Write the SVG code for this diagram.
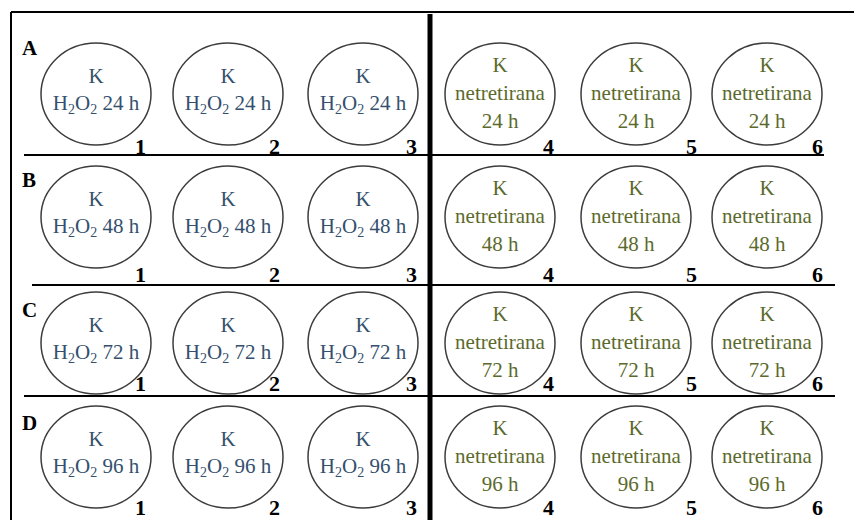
<svg xmlns="http://www.w3.org/2000/svg" width="854" height="520" viewBox="0 0 854 520">
<style>
.w{fill:none;stroke:#3c3c3c;stroke-width:1.5}
.t{font-family:"Liberation Serif","Times New Roman",serif;font-size:21px;text-anchor:middle}
.b{fill:#34506e}
.g{fill:#5b6a2c}
.s{font-size:14px}
.n{font-family:"Liberation Serif","Times New Roman",serif;font-size:22px;font-weight:bold;fill:#000;text-anchor:end}
.r{font-family:"Liberation Serif","Times New Roman",serif;font-size:21px;font-weight:bold;fill:#000}
.ln{stroke:#000;stroke-width:2;fill:none}
</style>
<defs>
<g id="wb"><ellipse class="w" cx="0" cy="0" rx="55" ry="51"/></g>
</defs>
<rect width="854" height="520" fill="#fff"/>
<g id="frame">
<path class="ln" d="M11 12H854M11 12V520"/>
<path class="ln" d="M24 155H824M32 285H835M24 396H835"/>
<path d="M430 14V520" stroke="#000" stroke-width="5"/>
</g>
<g id="rowlabels">
<text class="r" x="22" y="55">A</text>
<text class="r" x="22" y="187">B</text>
<text class="r" x="22" y="317">C</text>
<text class="r" x="22" y="430">D</text>
</g>
<g id="rowA">
<g id="A1"><use href="#wb" x="96" y="94"/><text class="t b" x="96" y="83">K</text><text class="t b" x="96" y="110">H<tspan class="s" dy="4">2</tspan><tspan dy="-4">O</tspan><tspan class="s" dy="4">2</tspan><tspan dy="-4"> 24 h</tspan></text><text class="n" x="146" y="154">1</text></g>
<g id="A2"><use href="#wb" x="228" y="94"/><text class="t b" x="228" y="83">K</text><text class="t b" x="228" y="110">H<tspan class="s" dy="4">2</tspan><tspan dy="-4">O</tspan><tspan class="s" dy="4">2</tspan><tspan dy="-4"> 24 h</tspan></text><text class="n" x="280" y="154">2</text></g>
<g id="A3"><use href="#wb" x="363" y="94"/><text class="t b" x="363" y="83">K</text><text class="t b" x="363" y="110">H<tspan class="s" dy="4">2</tspan><tspan dy="-4">O</tspan><tspan class="s" dy="4">2</tspan><tspan dy="-4"> 24 h</tspan></text><text class="n" x="417" y="154">3</text></g>
<g id="A4"><use href="#wb" x="500" y="94"/><text class="t g" x="500" y="72">K</text><text class="t g" x="500" y="100">netretirana</text><text class="t g" x="500" y="128">24 h</text><text class="n" x="554" y="154">4</text></g>
<g id="A5"><use href="#wb" x="636" y="94"/><text class="t g" x="636" y="72">K</text><text class="t g" x="636" y="100">netretirana</text><text class="t g" x="636" y="128">24 h</text><text class="n" x="697" y="154">5</text></g>
<g id="A6"><use href="#wb" x="767" y="94"/><text class="t g" x="767" y="72">K</text><text class="t g" x="767" y="100">netretirana</text><text class="t g" x="767" y="128">24 h</text><text class="n" x="823" y="154">6</text></g>
</g>
<g id="rowB">
<g id="B1"><use href="#wb" x="96" y="217"/><text class="t b" x="96" y="206">K</text><text class="t b" x="96" y="233">H<tspan class="s" dy="4">2</tspan><tspan dy="-4">O</tspan><tspan class="s" dy="4">2</tspan><tspan dy="-4"> 48 h</tspan></text><text class="n" x="146" y="282">1</text></g>
<g id="B2"><use href="#wb" x="228" y="217"/><text class="t b" x="228" y="206">K</text><text class="t b" x="228" y="233">H<tspan class="s" dy="4">2</tspan><tspan dy="-4">O</tspan><tspan class="s" dy="4">2</tspan><tspan dy="-4"> 48 h</tspan></text><text class="n" x="280" y="282">2</text></g>
<g id="B3"><use href="#wb" x="363" y="217"/><text class="t b" x="363" y="206">K</text><text class="t b" x="363" y="233">H<tspan class="s" dy="4">2</tspan><tspan dy="-4">O</tspan><tspan class="s" dy="4">2</tspan><tspan dy="-4"> 48 h</tspan></text><text class="n" x="417" y="282">3</text></g>
<g id="B4"><use href="#wb" x="500" y="217"/><text class="t g" x="500" y="195">K</text><text class="t g" x="500" y="223">netretirana</text><text class="t g" x="500" y="251">48 h</text><text class="n" x="554" y="282">4</text></g>
<g id="B5"><use href="#wb" x="636" y="217"/><text class="t g" x="636" y="195">K</text><text class="t g" x="636" y="223">netretirana</text><text class="t g" x="636" y="251">48 h</text><text class="n" x="697" y="282">5</text></g>
<g id="B6"><use href="#wb" x="767" y="217"/><text class="t g" x="767" y="195">K</text><text class="t g" x="767" y="223">netretirana</text><text class="t g" x="767" y="251">48 h</text><text class="n" x="823" y="282">6</text></g>
</g>
<g id="rowC">
<g id="C1"><use href="#wb" x="96" y="343"/><text class="t b" x="96" y="332">K</text><text class="t b" x="96" y="359">H<tspan class="s" dy="4">2</tspan><tspan dy="-4">O</tspan><tspan class="s" dy="4">2</tspan><tspan dy="-4"> 72 h</tspan></text><text class="n" x="146" y="391">1</text></g>
<g id="C2"><use href="#wb" x="228" y="343"/><text class="t b" x="228" y="332">K</text><text class="t b" x="228" y="359">H<tspan class="s" dy="4">2</tspan><tspan dy="-4">O</tspan><tspan class="s" dy="4">2</tspan><tspan dy="-4"> 72 h</tspan></text><text class="n" x="280" y="391">2</text></g>
<g id="C3"><use href="#wb" x="363" y="343"/><text class="t b" x="363" y="332">K</text><text class="t b" x="363" y="359">H<tspan class="s" dy="4">2</tspan><tspan dy="-4">O</tspan><tspan class="s" dy="4">2</tspan><tspan dy="-4"> 72 h</tspan></text><text class="n" x="417" y="391">3</text></g>
<g id="C4"><use href="#wb" x="500" y="343"/><text class="t g" x="500" y="321">K</text><text class="t g" x="500" y="349">netretirana</text><text class="t g" x="500" y="377">72 h</text><text class="n" x="554" y="391">4</text></g>
<g id="C5"><use href="#wb" x="636" y="343"/><text class="t g" x="636" y="321">K</text><text class="t g" x="636" y="349">netretirana</text><text class="t g" x="636" y="377">72 h</text><text class="n" x="697" y="391">5</text></g>
<g id="C6"><use href="#wb" x="767" y="343"/><text class="t g" x="767" y="321">K</text><text class="t g" x="767" y="349">netretirana</text><text class="t g" x="767" y="377">72 h</text><text class="n" x="823" y="391">6</text></g>
</g>
<g id="rowD">
<g id="D1"><use href="#wb" x="96" y="457"/><text class="t b" x="96" y="446">K</text><text class="t b" x="96" y="473">H<tspan class="s" dy="4">2</tspan><tspan dy="-4">O</tspan><tspan class="s" dy="4">2</tspan><tspan dy="-4"> 96 h</tspan></text><text class="n" x="146" y="515">1</text></g>
<g id="D2"><use href="#wb" x="228" y="457"/><text class="t b" x="228" y="446">K</text><text class="t b" x="228" y="473">H<tspan class="s" dy="4">2</tspan><tspan dy="-4">O</tspan><tspan class="s" dy="4">2</tspan><tspan dy="-4"> 96 h</tspan></text><text class="n" x="280" y="515">2</text></g>
<g id="D3"><use href="#wb" x="363" y="457"/><text class="t b" x="363" y="446">K</text><text class="t b" x="363" y="473">H<tspan class="s" dy="4">2</tspan><tspan dy="-4">O</tspan><tspan class="s" dy="4">2</tspan><tspan dy="-4"> 96 h</tspan></text><text class="n" x="417" y="515">3</text></g>
<g id="D4"><use href="#wb" x="500" y="457"/><text class="t g" x="500" y="435">K</text><text class="t g" x="500" y="463">netretirana</text><text class="t g" x="500" y="491">96 h</text><text class="n" x="554" y="515">4</text></g>
<g id="D5"><use href="#wb" x="636" y="457"/><text class="t g" x="636" y="435">K</text><text class="t g" x="636" y="463">netretirana</text><text class="t g" x="636" y="491">96 h</text><text class="n" x="697" y="515">5</text></g>
<g id="D6"><use href="#wb" x="767" y="457"/><text class="t g" x="767" y="435">K</text><text class="t g" x="767" y="463">netretirana</text><text class="t g" x="767" y="491">96 h</text><text class="n" x="823" y="515">6</text></g>
</g>
</svg>
